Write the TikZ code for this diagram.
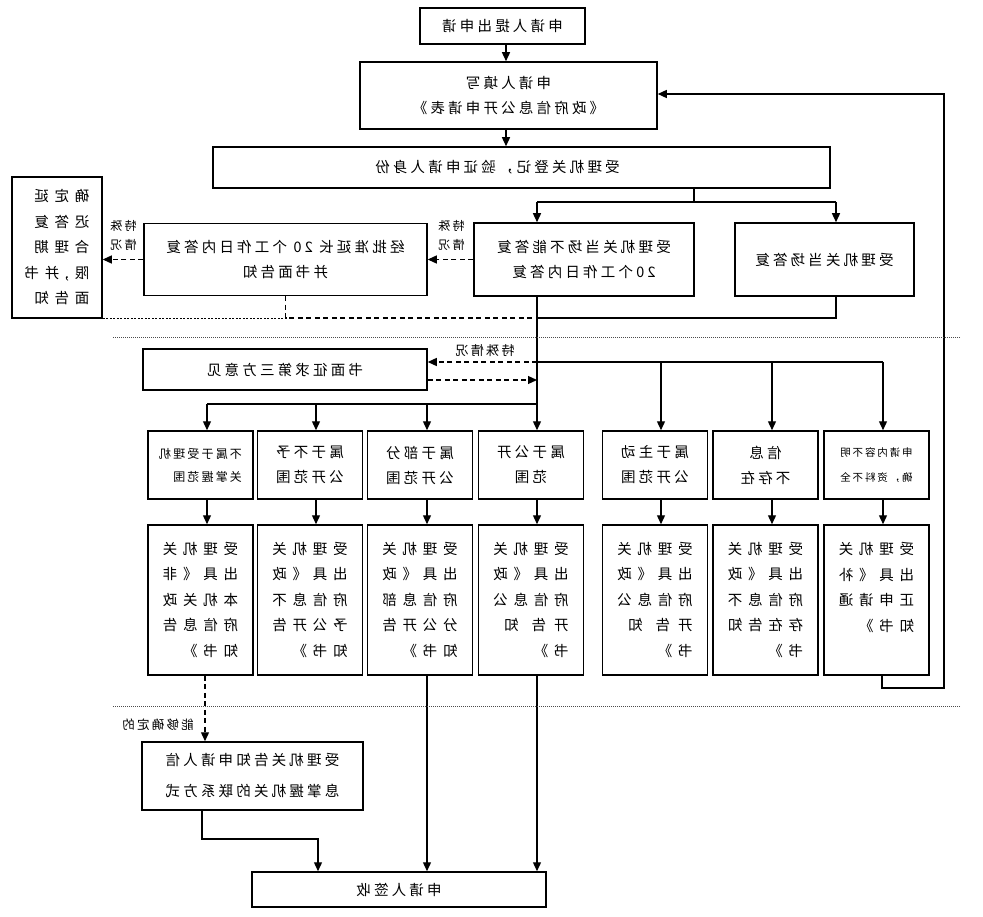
\documentclass[tikz,border=0pt]{standalone}
\usepackage{fontspec}
\setmainfont{Noto Sans CJK SC}
\newfontfamily\fA[LetterSpace=22]{Noto Sans CJK SC}
\newfontfamily\fB[LetterSpace=40]{Noto Sans CJK SC}
\newfontfamily\fS[LetterSpace=18]{Noto Sans CJK SC}
\usetikzlibrary{arrows.meta}
\tikzset{
  box/.style={draw, line width=1.5pt, inner sep=0pt, align=center},
  std/.style={font=\fA\fontsize{14.5}{25}\selectfont},
  big/.style={font=\fB\fontsize{14.5}{25.5}\selectfont, align=left},
  smallA/.style={font=\fS\fontsize{12}{23}\selectfont, align=left},
  smallG/.style={font=\fS\fontsize{10.5}{25}\selectfont, align=left},
  rowone/.style={box, minimum width=105, minimum height=68},
  rowtwo/.style={box, big, minimum width=105, minimum height=150},
  lab/.style={inner sep=0pt, align=center, font=\fS\fontsize{12}{19}\selectfont},
  labT/.style={inner sep=0pt, font=\fS\fontsize{13}{16}\selectfont},
  conn/.style={line width=1.3pt},
  arr/.style={conn, -{Triangle[length=9pt,width=8pt]}},
  dline/.style={conn, dash pattern=on 5pt off 3.5pt},
  darr/.style={dline, -{Triangle[length=9pt,width=8pt]}},
  fdots/.style={line width=1pt, dash pattern=on 2pt off 1.5pt},
  sep/.style={line width=0.9pt, dash pattern=on 1pt off 1pt, black!70},
}
\begin{document}
\begin{tikzpicture}[x=1pt, y=-1pt]
\fill[white] (0,0) rectangle (983,917);
\begin{scope}[xshift=983pt, xscale=-1, transform shape]
% ---------- nodes ----------
\node[box, std, minimum width=165, minimum height=36] (S1) at (480.5,26) {申请人提出申请};
\node[box, std, minimum width=297, minimum height=67] (S2) at (474.5,95.5) {申请人填写\\《政府信息公开申请表》};
\node[box, std, minimum width=617, minimum height=41] (S3) at (461.5,167.5) {\hspace*{48pt}受理机关登记，验证申请人身份};
\node[box, std, minimum width=220, minimum height=73] (S4) at (399,259.5) {受理机关当场不能答复\\20个工作日内答复};
\node[box, std, minimum width=179, minimum height=73] (S5) at (158.5,259.5) {受理机关当场答复};
\node[box, std, minimum width=283, minimum height=72] (S6) at (697.5,259.5) {经批准延长 20 个工作日内答复\\并书面告知};
\node[box, big, minimum width=90, minimum height=141] (S7) at (926,247.5) {确定延\\迟答复\\合理期\\限,并书\\面告知};
\node[box, std, minimum width=284, minimum height=41] (T) at (698,369.5) {书面征求第三方意见};
\node[rowone, smallA] (A) at (782.5,465) {不属于受理机\\关掌握范围};
\node[rowone, std] (B) at (673,465) {属于不予\\公开范围};
\node[rowone, std] (C) at (563,465) {属于部分\\公开范围};
\node[rowone, std] (D) at (452,465) {属于公开\\范围};
\node[rowone, std] (E) at (328,465) {属于主动\\公开范围};
\node[rowone, std] (F) at (217.5,465) {信息\\不存在};
\node[rowone, smallG] (G) at (106.5,465) {申请内容不明\\确，资料不全};
\node[rowtwo] (A2) at (782.5,600) {受理机关\\出具《非\\本机关政\\府信息告\\知书》};
\node[rowtwo] (B2) at (673,600) {受理机关\\出具《政\\府信息不\\予公开告\\知书》};
\node[rowtwo] (C2) at (563,600) {受理机关\\出具《政\\府信息部\\分公开告\\知书》};
\node[rowtwo] (D2) at (452,600) {受理机关\\出具《政\\府信息公\\开\hspace{8pt}告\hspace{13pt}知\\书》};
\node[rowtwo] (E2) at (328,600) {受理机关\\出具《政\\府信息公\\开\hspace{8pt}告\hspace{13pt}知\\书》};
\node[rowtwo] (F2) at (217.5,600) {受理机关\\出具《政\\府信息不\\存在告知\\书》};
\node[rowtwo] (G2) at (106.5,600) {受理机关\\出具《补\\正申请通\\知书》\\\phantom{知}};
\node[box, font=\fA\fontsize{14.5}{31}\selectfont, minimum width=221, minimum height=68] (H) at (730.5,776) {受理机关告知申请人信\\息掌握机关的联系方式};
\node[box, std, minimum width=294, minimum height=35] (R) at (584,889.5) {申请人签收};
% labels
\node[lab] (L1) at (531.5,235) {特殊\\情况};
\node[lab] (L2) at (859.5,235) {特殊\\情况};
\node[labT] (L3) at (498,351) {特殊情况};
\node[labT, font=\fS\fontsize{12.5}{16}\selectfont] (L4) at (825,725) {能够确定的};
% ---------- coordinates ----------
\coordinate (ax) at (477,0);
\coordinate (j0) at (289,202);
\coordinate (jL) at (446,202);
\coordinate (jR) at (147,202);
\coordinate (m1) at (446,318);
\coordinate (t1) at (446,362);
\coordinate (t2) at (446,380);
\coordinate (rE) at (322,362);
\coordinate (rF) at (211,362);
\coordinate (rG) at (100,362);
\coordinate (l0) at (446,404);
\coordinate (lA) at (776,404);
\coordinate (lB) at (667,404);
\coordinate (lC) at (556,404);
\coordinate (hx) at (778,0);
\coordinate (hb) at (781,839);
\coordinate (rb) at (665,839);
\coordinate (fb1) at (101,688);
\coordinate (fb2) at (39,688);
\coordinate (fb3) at (39,94);
\coordinate (sa1) at (23,337);
\coordinate (sa2) at (870,337);
\coordinate (sb1) at (23,706);
\coordinate (sb2) at (870,706);
% ---------- connectors ----------
\draw[arr] (S1.south -| ax) -- (S2.north -| ax);
\draw[arr] (S2.south -| ax) -- (S3.north -| ax);
\draw[conn] (S3.south -| j0) -- (j0);
\draw[conn] (jL) -- (jR);
\draw[arr] (jL) -- (S4.north -| jL);
\draw[arr] (jR) -- (S5.north -| jR);
\draw[darr] (S4.east) -- (S6.west);
\draw[darr] (S6.east) -- (S6.east -| S7.west);
\draw[dline] (S6.south) |- (m1);
\draw[fdots] (S7.south west) -- (S7.south west -| S6.south);
\draw[conn] (S5.south -| jR) |- (m1);
\draw[arr] (S4.south -| jL) -- (D.north -| jL);
\draw[darr] (t1) -- (t1 -| T.west);
\draw[darr] (t2 -| T.west) -- (t2);
\draw[conn] (t1) -- (rG);
\draw[arr] (rE) -- (E.north -| rE);
\draw[arr] (rF) -- (F.north -| rF);
\draw[arr] (rG) -- (G.north -| rG);
\draw[conn] (l0) -- (lA);
\draw[arr] (lA) -- (A.north -| lA);
\draw[arr] (lB) -- (B.north -| lB);
\draw[arr] (lC) -- (C.north -| lC);
\draw[arr] (A.south -| lA) -- (A2.north -| lA);
\draw[arr] (B.south -| lB) -- (B2.north -| lB);
\draw[arr] (C.south -| lC) -- (C2.north -| lC);
\draw[arr] (D.south -| jL) -- (D2.north -| jL);
\draw[arr] (E.south -| rE) -- (E2.north -| rE);
\draw[arr] (F.south -| rF) -- (F2.north -| rF);
\draw[arr] (G.south -| rG) -- (G2.north -| rG);
\draw[darr] (A2.south -| hx) -- (H.north -| hx);
\draw[arr] (H.south -| hb) -- (hb) -- (rb) -- (R.north -| rb);
\draw[arr] (C2.south -| lC) -- (R.north -| lC);
\draw[arr] (D2.south -| jL) -- (R.north -| jL);
\draw[arr] (G2.south -| fb1) -- (fb1) -- (fb2) -- (fb3) -- (fb3 -| S2.west);
\draw[sep] (sa1) -- (sa2);
\draw[sep] (sb1) -- (sb2);
\end{scope}
\end{tikzpicture}
\end{document}
